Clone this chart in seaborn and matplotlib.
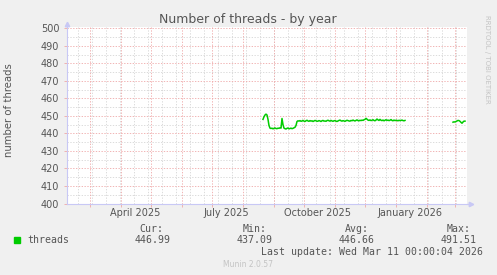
import numpy as np
import pandas as pd
import matplotlib
matplotlib.use("Agg")
import matplotlib.pyplot as plt
import matplotlib.dates as mdates
import seaborn as sns

# ---------------- data ----------------
title = "Number of threads - by year"
ylabel = "number of threads"
month_labels = ["April 2025", "July 2025", "October 2025", "January 2026"]
label_dates = ["2025-04-15", "2025-07-15", "2025-10-15", "2026-01-15"]
y_ticks = [400, 410, 420, 430, 440, 450, 460, 470, 480, 490, 500]

series_name = "threads"
seg1_start = "2025-08-21"
seg1_values = [
    448.0, 449.5, 450.5, 451.0, 450.5, 448.0, 444.5, 443.0, 442.8, 443.0,
    442.6, 442.9, 443.1, 442.8, 442.7, 443.0, 442.9, 443.2, 443.0, 448.5,
    445.0, 443.0, 442.7, 442.5, 442.9, 443.1, 442.6, 442.8, 443.0, 442.7,
    442.9, 443.2, 443.5, 444.5, 446.8, 447.2,
    447.0, 447.3, 446.9, 447.1, 447.4, 447.0, 446.8, 447.2, 447.5, 447.1,
    446.9, 447.3, 447.0, 447.2, 446.8, 447.1, 447.4, 447.2, 446.9, 447.0,
    447.3, 447.1, 446.8, 447.2, 447.4, 447.0, 447.1, 446.9, 447.3, 447.5,
    447.2, 447.0, 447.4, 447.1, 446.9, 447.2, 447.3, 447.0, 446.8, 447.1,
    447.4, 447.6, 447.2, 447.0, 447.3, 447.1, 446.9, 447.2, 447.5, 447.3,
    447.1, 447.0, 447.4, 447.2, 447.6, 447.3, 447.1, 447.4, 447.7, 447.3,
    447.2, 447.5, 447.3, 447.6, 447.4, 447.8, 448.0, 448.6, 448.1, 447.6,
    447.4, 447.7, 447.3, 447.5, 447.8, 447.4, 447.2, 447.6, 448.2, 447.7,
    447.4, 448.0, 447.5, 447.3, 447.6, 447.2, 447.5, 447.8, 447.4, 447.6,
    447.3, 447.5, 447.9, 447.4, 447.2, 447.6, 447.3, 447.5, 447.4, 447.2,
    447.5, 447.3, 447.4, 447.6, 447.3, 447.2, 447.4,
]
seg2_start = "2026-02-27"
seg2_values = [446.4, 446.6, 446.5, 446.8, 447.1, 447.4, 447.3, 446.9,
               446.3, 445.8, 446.5, 447.0, 447.0]

stats_names = ["Cur:", "Min:", "Avg:", "Max:"]
stats_values = ["446.99", "437.09", "446.66", "491.51"]
last_update = "Last update: Wed Mar 11 00:00:04 2026"
footer = "Munin 2.0.57"
side_text = "RRDTOOL / TOBI OETIKER"

x_start = "2025-02-06"
x_end = "2026-03-13"

# ---------------- frame ----------------
df = pd.concat([
    pd.DataFrame({"date": pd.date_range(seg1_start, periods=len(seg1_values), freq="D"),
                  "value": seg1_values, "segment": 1}),
    pd.DataFrame({"date": pd.date_range(seg2_start, periods=len(seg2_values), freq="D"),
                  "value": seg2_values, "segment": 2}),
])

W, H = 497, 275
BG = "#F0F0F0"
TXT = "#555555"
RED = "#EFA8A8"
GRAY = "#D6D6D6"
AXC = "#C8C8F5"
GREEN = "#00CC00"

fig = plt.figure(figsize=(W / 100, H / 100), dpi=100, facecolor=BG)
left, right, top, bottom = 67, 467, 26.5, 203.5
ax = fig.add_axes([left / W, 1 - bottom / H, (right - left) / W, (bottom - top) / H])
ax.set_facecolor("white")

xs = pd.Timestamp(x_start)
xe = pd.Timestamp(x_end)

gkw = dict(lw=0.6, ls=(0, (1.6, 1.8)))
# grid lines
for d in pd.date_range("2025-02-17", x_end, freq="14D"):
    ax.axvline(d, color=GRAY, zorder=1, **gkw)
for v in range(405, 500, 10):
    ax.axhline(v, color=GRAY, zorder=1, **gkw)
for d in pd.date_range("2025-03-01", x_end, freq="MS"):
    ax.axvline(d, color=RED, zorder=2, **gkw)
for v in y_ticks:
    ax.axhline(v, color=RED, zorder=2, **gkw)

sns.lineplot(data=df, x="date", y="value", units="segment", estimator=None,
             color=GREEN, linewidth=1.1, ax=ax, zorder=5, legend=False)

ax.set_xlim(xs, xe)
ax.set_ylim(400, 501)
ax.set_xlabel("")
ax.set_ylabel("")

ax.set_yticks(y_ticks)
ax.set_yticklabels([str(v) for v in y_ticks])
ax.tick_params(axis="y", length=2, width=0.6, color=RED, pad=3.5,
               labelsize=7, labelcolor=TXT)
ax.set_xticks([pd.Timestamp(d) for d in label_dates])
ax.set_xticklabels(month_labels)
ax.tick_params(axis="x", which="major", length=0, pad=3.5, labelsize=7, labelcolor=TXT)
ax.set_xticks(list(pd.date_range("2025-03-01", x_end, freq="MS")), minor=True)
ax.tick_params(axis="x", which="minor", length=2, width=0.6, color=RED)

for s in ["top", "right"]:
    ax.spines[s].set_visible(False)
ax.spines["left"].set_color(AXC)
ax.spines["bottom"].set_color(AXC)
ax.spines["left"].set_linewidth(0.8)
ax.spines["bottom"].set_linewidth(0.8)

# axis extension + arrows
fig.add_artist(plt.Line2D([right / W, 471 / W], [1 - bottom / H, 1 - bottom / H],
                          color=AXC, lw=0.8, transform=fig.transFigure))
fig.add_artist(plt.Line2D([left / W, left / W], [1 - top / H, 1 - 24 / H],
                          color=AXC, lw=0.8, transform=fig.transFigure))
fig.add_artist(plt.Line2D([471 / W], [1 - bottom / H], marker=">", ms=3.2,
                          color=AXC, transform=fig.transFigure))
fig.add_artist(plt.Line2D([left / W], [1 - 24 / H], marker="^", ms=3.2,
                          color=AXC, transform=fig.transFigure))

# titles
fig.text(248 / W, 1 - 19 / H, title, ha="center", va="center",
         fontsize=9, color=TXT, family="DejaVu Sans")
fig.text(9 / W, 1 - 110 / H, ylabel, ha="center", va="center", rotation=90,
         fontsize=7.3, color=TXT, family="DejaVu Sans")
fig.text(487 / W, 1 - 15 / H, side_text, ha="center", va="top", rotation=270,
         fontsize=5, color="#C4C4C4", family="DejaVu Sans")

# legend block
mono = "DejaVu Sans Mono"
fig.add_artist(plt.Rectangle((14 / W, 1 - 243 / H), 6 / W, 6 / H, color=GREEN,
                             transform=fig.transFigure))
fig.text(27 / W, 1 - 240 / H, series_name, ha="left", va="center",
         fontsize=7.1, color=TXT, family=mono)
name_right = [163.5, 266.5, 368.5, 470.5]
val_right = [170.5, 273, 375, 477]
for n, v, xr, xv in zip(stats_names, stats_values, name_right, val_right):
    fig.text(xr / W, 1 - 228.5 / H, n, ha="right", va="center",
             fontsize=7.1, color=TXT, family=mono)
    fig.text(xv / W, 1 - 240 / H, v, ha="right", va="center",
             fontsize=7.1, color=TXT, family=mono)
fig.text(483 / W, 1 - 252 / H, last_update, ha="right", va="center",
         fontsize=7.1, color=TXT, family=mono)
fig.text(248 / W, 1 - 264.5 / H, footer, ha="center", va="center",
         fontsize=5.5, color="#C4C4C4", family="DejaVu Sans")

fig.savefig("out.png", dpi=100, facecolor=BG)
